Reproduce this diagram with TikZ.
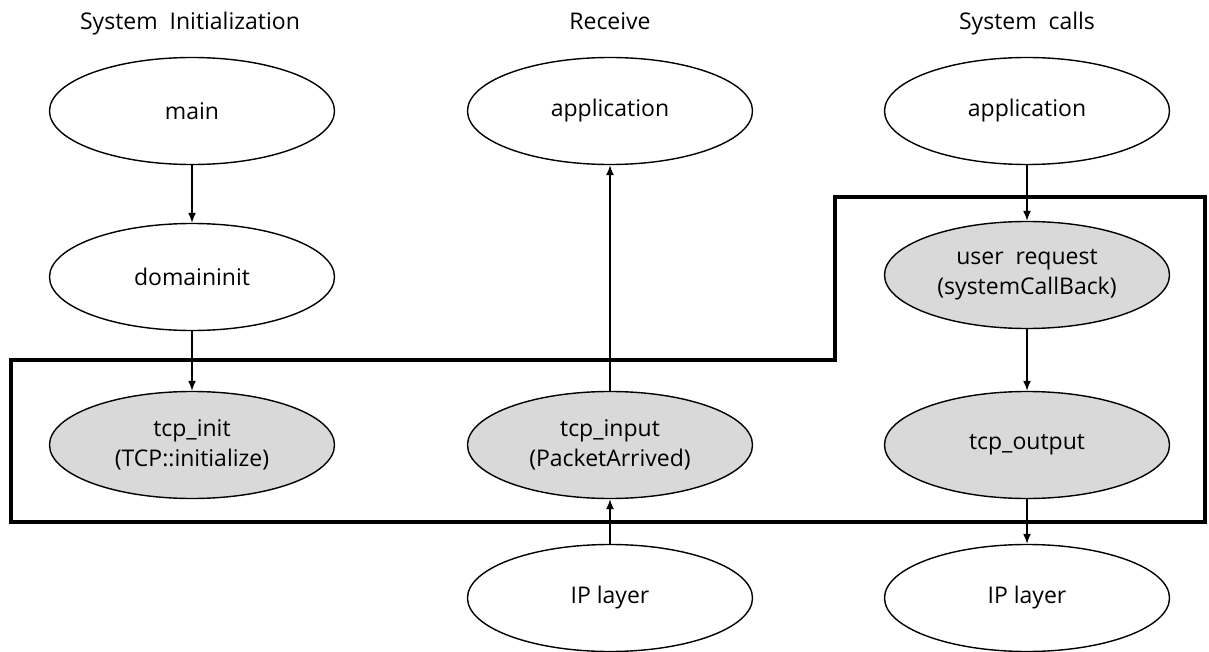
\documentclass[tikz,border=0pt]{standalone}
\usepackage{fontspec}
\setmainfont{Open Sans}
\usetikzlibrary{shapes.geometric,arrows.meta}
\definecolor{boxgray}{HTML}{D9D9D9}
\tikzset{
  oval/.style={ellipse, draw=black, line width=1.4pt, fill=white,
    minimum width=285pt, minimum height=107pt, inner sep=0pt,
    align=center, font=\fontsize{23}{30}\selectfont},
  tcpoval/.style={oval, fill=boxgray},
  title/.style={font=\fontsize{23}{28}\selectfont, anchor=base},
  arr/.style={line width=1.5pt, -{Latex[length=10pt,width=8pt]}},
  frame/.style={line width=4pt, line join=miter}
}
\begin{document}
\begin{tikzpicture}[x=1pt,y=-1pt]
\useasboundingbox (0,0) rectangle (1209,652);

% column headings
\node[title] (h1) at (190,30) {System\ \ Initialization};
\node[title] (h2) at (610,30) {Receive};
\node[title] (h3) at (1027,30) {System\ \ calls};

% protocol boundary
\draw[frame] (11,360) -- (835,360) -- (835,197) -- (1205,197)
  -- (1205,522) -- (11,522) -- cycle;

% initialization column
\node[oval] (main) at (192,111) {main};
\node[oval] (dom) at (192,277) {domaininit};
\node[tcpoval] (tinit) at (192,445) {tcp\_init\\(TCP::initialize)};

% receive column
\node[oval] (app1) at (610,111) {application};
\node[tcpoval] (tin) at (610,445) {tcp\_input\\(PacketArrived)};
\node[oval] (ip1) at (610,598) {IP layer};

% system call column
\node[oval] (app2) at (1027,111) {application};
\node[tcpoval] (ureq) at (1027,275) {user\ \ request\\(systemCallBack)};
\node[tcpoval] (tout) at (1027,445) {tcp\_output};
\node[oval] (ip2) at (1027,598) {IP layer};

% call flow
\draw[arr] (main) -- (dom);
\draw[arr] (dom) -- (tinit);
\draw[arr] (tin) -- (app1);
\draw[arr] (ip1) -- (tin);
\draw[arr] (app2) -- (ureq);
\draw[arr] (ureq) -- (tout);
\draw[arr] (tout) -- (ip2);
\end{tikzpicture}
\end{document}
